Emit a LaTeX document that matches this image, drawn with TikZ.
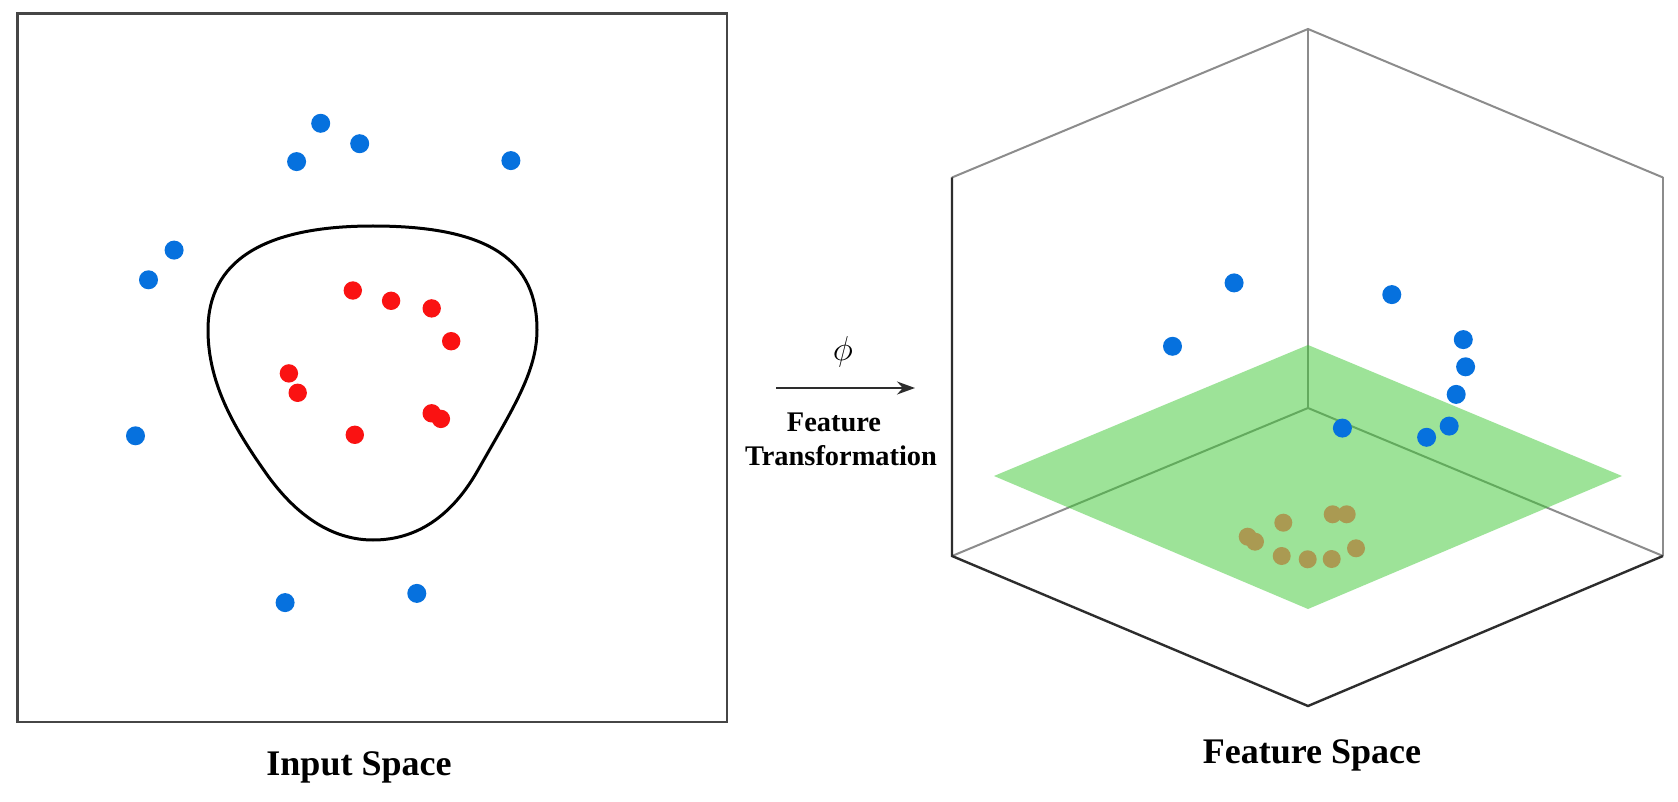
\documentclass[tikz,border=0pt]{standalone}
\usepackage{fontspec}
\setmainfont{Liberation Serif}
\usetikzlibrary{arrows.meta}
\definecolor{ptblue}{RGB}{6,113,222}
\definecolor{ptred}{RGB}{250,18,18}
\definecolor{ptolive}{RGB}{170,154,82}
\definecolor{planegreen}{RGB}{60,200,50}
\definecolor{boxgray}{RGB}{70,70,70}
\definecolor{backgray}{RGB}{140,140,140}
\definecolor{frontgray}{RGB}{45,45,45}
\tikzset{
  bluedot/.style={fill=ptblue},
  reddot/.style={fill=ptred},
  olivedot/.style={fill=ptolive},
  boxline/.style={draw=boxgray, line width=1.25pt},
  backedge/.style={draw=backgray, line width=1pt},
  frontedge/.style={draw=frontgray, line width=1.2pt},
  biglab/.style={font=\fontsize{18}{20}\selectfont\bfseries, inner sep=0pt},
  smalllab/.style={font=\fontsize{14.2}{16}\selectfont\bfseries, inner sep=0pt},
  maparrow/.style={draw=frontgray, line width=1pt, -{Stealth[length=9pt,width=6.5pt]}}
}
\begin{document}
\begin{tikzpicture}[x=0.5pt,y=-0.5pt]
\useasboundingbox (0,0) rectangle (1678,802);
\fill[white] (0,0) rectangle (1678,802);

% ---------- Input space ----------
\draw[boxline] (17.5,13.5) rectangle (727,722);

\draw[black, line width=1.5pt]
  (373,226) .. controls (492,226) and (537,262) .. (537,330)
  .. controls (537,372) and (512,410) .. (478,470)
  .. controls (448,523) and (410,540) .. (373,540)
  .. controls (336,540) and (300,520) .. (268,476)
  .. controls (236,431) and (208,385) .. (208,330)
  .. controls (208,262) and (262,226) .. (373,226) -- cycle;

\foreach \p in {(320.7,123.3),(359.7,143.7),(296.6,161.6),(510.9,160.6),(174.1,250.1),(148.5,279.8),(135.5,435.8),(285.1,602.6),(416.8,593.4)}
  \fill[bluedot] \p circle[radius=4.75pt];

\foreach \p in {(352.8,290.5),(391.1,300.8),(431.7,308.4),(451.2,341.2),(288.9,373.4),(297.7,392.8),(431.7,413.3),(440.9,418.9),(354.8,434.8)}
  \fill[reddot] \p circle[radius=4.6pt];

\node[biglab, anchor=base] (inlab) at (359,775) {Input Space};

% ---------- Transformation arrow ----------
\coordinate (arrS) at (776,388);
\coordinate (arrE) at (915,388);
\draw[maparrow] (arrS) -- (arrE);
\node[inner sep=0pt, font=\fontsize{19}{22}\selectfont] (phi) at (843,352) {$\phi$};
\node[smalllab, anchor=base] (ft1) at (834,432) {Feature};
\node[smalllab, anchor=base] (ft2) at (841,466) {Transformation};

% ---------- Feature space ----------
\coordinate (T) at (1308,29);
\coordinate (UL) at (952,177.5);
\coordinate (UR) at (1663,177.5);
\coordinate (C) at (1308,408);
\coordinate (LL) at (952,556);
\coordinate (LR) at (1663,556);
\coordinate (B) at (1308,706);

\draw[backedge] (UL) -- (T) -- (UR);
\draw[backedge] (T) -- (C);
\draw[backedge] (LL) -- (C) -- (LR);
\draw[backedge] (UR) -- (LR);
\draw[frontedge] (UL) -- (LL) -- (B) -- (LR);

\fill[planegreen, fill opacity=0.5] (994,476) -- (1308,345) -- (1622,476) -- (1308,609) -- cycle;

\foreach \p in {(1234.1,282.9),(1172.5,346.3),(1391.8,294.6),(1463.3,339.6),(1465.6,366.8),(1456.2,394.4),(1342.4,428.1),(1449.2,426.1),(1426.6,437.3)}
  \fill[bluedot] \p circle[radius=4.75pt];

\foreach \p in {(1247.7,536.7),(1255,541.7),(1283.3,522.7),(1332.7,514.3),(1346.7,514.3),(1356,548.3),(1281.7,556),(1307.7,559.3),(1331.7,559)}
  \fill[olivedot] \p circle[radius=4.5pt];

\node[biglab, anchor=base] (felab) at (1312,763) {Feature Space};
\end{tikzpicture}
\end{document}
